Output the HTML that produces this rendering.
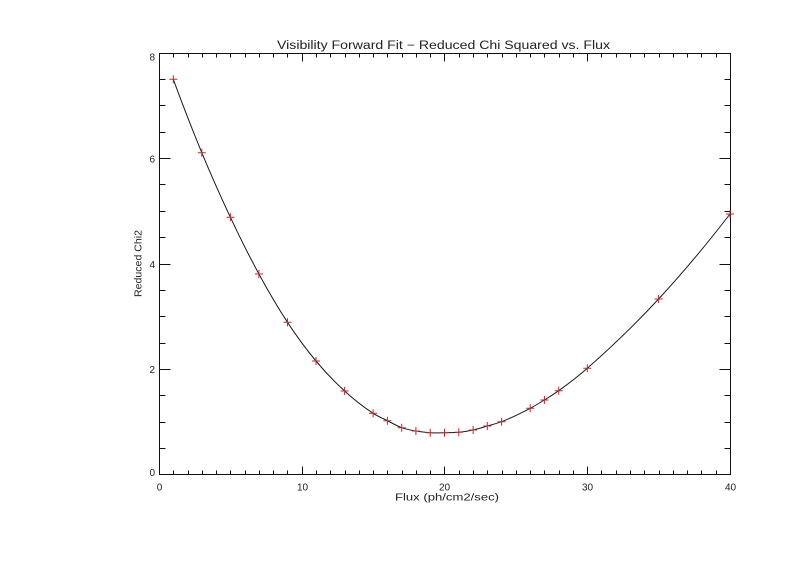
<!DOCTYPE html>
<html>
<head>
<meta charset="utf-8">
<style>
  html, body { margin: 0; padding: 0; background: #ffffff; }
  svg { display: block; }
  text { font-family: "Liberation Sans", "DejaVu Sans", sans-serif; fill: #222; }
</style>
</head>
<body>
<svg width="800" height="565" viewBox="0 0 800 565" xmlns="http://www.w3.org/2000/svg">
  <rect x="0" y="0" width="800" height="565" fill="#ffffff"/>

  <!-- Title -->
  <text x="443.5" y="49" font-size="11.5" text-anchor="middle" textLength="333" lengthAdjust="spacingAndGlyphs">Visibility Forward Fit − Reduced Chi Squared vs. Flux</text>

  <!-- Axes box -->
  <rect x="159.5" y="53.5" width="571" height="421" fill="none" stroke="#111" stroke-width="1"/>

  <!-- X ticks bottom & top -->
  <path stroke="#111" stroke-width="1" fill="none" d="
    M173.5 474.5v-4 M188.5 474.5v-4 M202.5 474.5v-4 M216.5 474.5v-4 M230.5 474.5v-4 M245.5 474.5v-4 M259.5 474.5v-4 M273.5 474.5v-4 M287.5 474.5v-4
    M302.5 474.5v-8
    M316.5 474.5v-4 M330.5 474.5v-4 M345.5 474.5v-4 M359.5 474.5v-4 M373.5 474.5v-4 M387.5 474.5v-4 M402.5 474.5v-4 M416.5 474.5v-4 M430.5 474.5v-4
    M444.5 474.5v-8
    M459.5 474.5v-4 M473.5 474.5v-4 M487.5 474.5v-4 M502.5 474.5v-4 M516.5 474.5v-4 M530.5 474.5v-4 M544.5 474.5v-4 M559.5 474.5v-4 M573.5 474.5v-4
    M587.5 474.5v-8
    M601.5 474.5v-4 M616.5 474.5v-4 M630.5 474.5v-4 M644.5 474.5v-4 M659.5 474.5v-4 M673.5 474.5v-4 M687.5 474.5v-4 M701.5 474.5v-4 M716.5 474.5v-4

    M173.5 53.5v4 M188.5 53.5v4 M202.5 53.5v4 M216.5 53.5v4 M230.5 53.5v4 M245.5 53.5v4 M259.5 53.5v4 M273.5 53.5v4 M287.5 53.5v4
    M302.5 53.5v8
    M316.5 53.5v4 M330.5 53.5v4 M345.5 53.5v4 M359.5 53.5v4 M373.5 53.5v4 M387.5 53.5v4 M402.5 53.5v4 M416.5 53.5v4 M430.5 53.5v4
    M444.5 53.5v8
    M459.5 53.5v4 M473.5 53.5v4 M487.5 53.5v4 M502.5 53.5v4 M516.5 53.5v4 M530.5 53.5v4 M544.5 53.5v4 M559.5 53.5v4 M573.5 53.5v4
    M587.5 53.5v8
    M601.5 53.5v4 M616.5 53.5v4 M630.5 53.5v4 M644.5 53.5v4 M659.5 53.5v4 M673.5 53.5v4 M687.5 53.5v4 M701.5 53.5v4 M716.5 53.5v4
  "/>

  <!-- Y ticks left & right -->
  <path stroke="#111" stroke-width="1" fill="none" d="
    M159.5 448.5h6 M159.5 422.5h6 M159.5 395.5h6
    M159.5 369.5h11
    M159.5 343.5h6 M159.5 316.5h6 M159.5 290.5h6
    M159.5 264.5h11
    M159.5 237.5h6 M159.5 211.5h6 M159.5 184.5h6
    M159.5 158.5h11
    M159.5 132.5h6 M159.5 105.5h6 M159.5 79.5h6

    M730.5 448.5h-6 M730.5 422.5h-6 M730.5 395.5h-6
    M730.5 369.5h-11
    M730.5 343.5h-6 M730.5 316.5h-6 M730.5 290.5h-6
    M730.5 264.5h-11
    M730.5 237.5h-6 M730.5 211.5h-6 M730.5 184.5h-6
    M730.5 158.5h-11
    M730.5 132.5h-6 M730.5 105.5h-6 M730.5 79.5h-6
  "/>

  <!-- X tick labels -->
  <g font-size="10" text-anchor="middle">
    <text x="159.5" y="490.5">0</text>
    <text x="302.5" y="490.5">10</text>
    <text x="444.5" y="490.5">20</text>
    <text x="587.5" y="490.5">30</text>
    <text x="730.5" y="490.5">40</text>
  </g>

  <!-- Y tick labels -->
  <g font-size="10" text-anchor="end">
    <text x="155" y="476">0</text>
    <text x="155" y="373.2">2</text>
    <text x="155" y="268">4</text>
    <text x="155" y="162.5">6</text>
    <text x="155" y="60.5">8</text>
  </g>

  <!-- Axis titles -->
  <text x="447" y="500.5" font-size="10" text-anchor="middle" textLength="104" lengthAdjust="spacingAndGlyphs">Flux (ph/cm2/sec)</text>
  <text transform="translate(141.5,263.5) rotate(-90)" x="0" y="0" font-size="10" text-anchor="middle" textLength="67" lengthAdjust="spacingAndGlyphs">Reduced Chi2</text>

  <!-- Curve -->
  <path fill="none" stroke="#1a1a1a" stroke-width="1" d="
    M173.3 79.3
    C182.8 105.2 192.3 129.7 201.8 152.7
    C211.3 175.7 220.9 197.1 230.4 217.3
    C239.9 237.5 249.4 256.5 258.9 274.0
    C268.4 291.5 278.0 307.8 287.5 322.3
    C297.0 336.8 306.5 349.6 316.0 361.0
    C325.5 372.5 335.1 382.3 344.6 391.0
    C354.1 399.7 363.6 407.1 373.1 413.3
    C377.9 416.4 382.6 418.3 387.4 420.7
    C392.2 423.1 396.9 426.0 401.7 427.7
    C406.4 429.4 411.2 430.2 415.9 431.0
    C420.7 431.8 425.4 432.4 430.2 432.7
    C435.0 433.0 439.7 432.8 444.5 432.7
    C449.3 432.6 454.0 432.8 458.8 432.3
    C463.6 431.8 468.3 431.1 473.1 430.0
    C477.8 429.0 482.6 427.4 487.3 426.0
    C492.1 424.6 496.8 423.5 501.6 421.7
    C511.1 418.0 520.7 413.3 530.2 408.3
    C534.9 405.8 539.7 402.9 544.4 400.0
    C549.2 397.1 553.9 394.1 558.7 390.7
    C568.2 383.9 577.8 376.7 587.3 368.3
    C611.1 347.4 634.8 324.7 658.6 299.0
    C682.4 273.3 706.2 244.9 730.0 214.0
  "/>

  <!-- Plus markers -->
  <g stroke="#c42828" stroke-width="1" fill="none">
    <path d="
      M169.3 79.3h8 M173.3 75.3v8
      M197.8 152.7h8 M201.8 148.7v8
      M226.4 217.3h8 M230.4 213.3v8
      M254.9 274.0h8 M258.9 270.0v8
      M283.5 322.3h8 M287.5 318.3v8
      M312.0 361.0h8 M316.0 357.0v8
      M340.6 391.0h8 M344.6 387.0v8
      M369.1 413.3h8 M373.1 409.3v8
      M383.4 420.7h8 M387.4 416.7v8
      M397.7 427.7h8 M401.7 423.7v8
      M411.9 431.0h8 M415.9 427.0v8
      M426.2 432.7h8 M430.2 428.7v8
      M440.5 432.7h8 M444.5 428.7v8
      M454.8 432.3h8 M458.8 428.3v8
      M469.1 430.0h8 M473.1 426.0v8
      M483.3 426.0h8 M487.3 422.0v8
      M497.6 421.7h8 M501.6 417.7v8
      M526.2 408.3h8 M530.2 404.3v8
      M540.4 400.0h8 M544.4 396.0v8
      M554.7 390.7h8 M558.7 386.7v8
      M583.3 368.3h8 M587.3 364.3v8
      M654.6 299.0h8 M658.6 295.0v8
      M726.0 214.0h8 M730.0 210.0v8
    "/>
  </g>
</svg>
</body>
</html>
